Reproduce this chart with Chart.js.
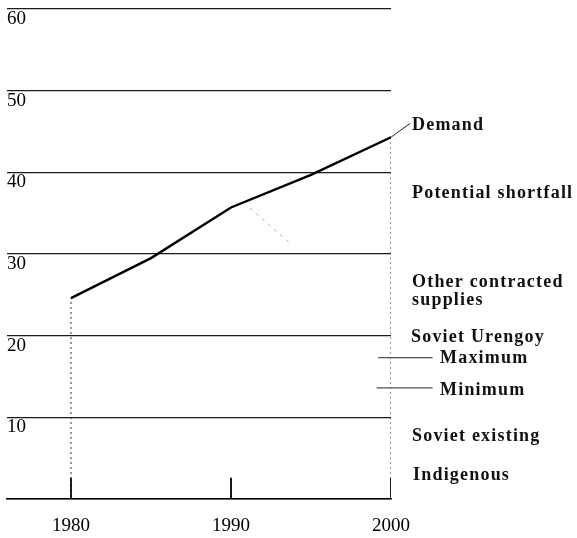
<!DOCTYPE html>
<html>
<head>
<meta charset="utf-8">
<script src="https://cdn.jsdelivr.net/npm/chart.js@4.4.0/dist/chart.umd.min.js"></script>
<style>
  html, body { margin: 0; padding: 0; background: #fff; }
</style>
</head>
<body>
<canvas id="mycanvas" width="577" height="538"></canvas>
<script>
// demand curve
var years = [1980, 1985, 1990, 1995, 2000];
var demand = [24.6, 29.5, 35.7, 39.7, 44.3];

// Soviet Urengoy range at 2000
var urengoyMax = 17.3;
var urengoyMin = 13.6;

// faint stray trace below the 1990 bend
var traceYears = [1991.2, 1993.7];
var traceValues = [35.6, 31.3];

var xTicks = [1980, 1990, 2000];
var yTicks = [0, 10, 20, 30, 40, 50, 60];

var bandLabels = ['Demand', 'Potential shortfall', 'Other contracted', 'supplies',
                  'Soviet Urengoy', 'Maximum', 'Minimum', 'Soviet existing', 'Indigenous'];

// where the labels sit: baseline in chart units, indent in px from the right edge
var labelBase = [45.2, 36.85, 25.96, 23.75, 19.22, 16.65, 12.73, 7.1, 2.33];
var labelIndent = [21, 21, 21, 21, 20, 49, 49, 21, 22];

function pts(xs, ys) {
  var out = [];
  for (var i = 0; i < xs.length; i++) out.push({x: xs[i], y: ys[i]});
  return out;
}

var last = years.length - 1;
var guides = [
  {x: years[0], y: 0}, {x: years[0], y: demand[0]}, {x: 1990, y: null},
  {x: years[last], y: 0}, {x: years[last], y: demand[last]}
];
var tickMarks = [];
xTicks.forEach(function(v) {
  tickMarks.push({x: v, y: 0}, {x: v, y: 2.6}, {x: v + 1, y: null});
});
var leaders = [
  {x: years[last], y: demand[last]}, {x: 2001.2, y: 46.0}, {x: 2001.5, y: null},
  {x: 1999.2, y: urengoyMax}, {x: 2002.6, y: urengoyMax}, {x: 2001.5, y: null},
  {x: 1999.1, y: urengoyMin}, {x: 2002.6, y: urengoyMin}
];

var annotate = {
  id: 'annotate',
  afterDatasetsDraw: function(chart) {
    var ctx = chart.ctx;
    var ys = chart.scales.y;
    var right = chart.chartArea.right;
    ctx.save();
    ctx.font = 'bold 18px "Liberation Serif"';
    ctx.letterSpacing = '1.2px';
    ctx.fillStyle = '#111';
    ctx.textAlign = 'left';
    ctx.textBaseline = 'alphabetic';
    for (var i = 0; i < bandLabels.length; i++) {
      ctx.fillText(bandLabels[i], right + labelIndent[i], ys.getPixelForValue(labelBase[i]));
    }
    ctx.restore();
  }
};

var serif = {family: '"Liberation Serif", serif', size: 19};

new Chart(document.getElementById('mycanvas'), {
  type: 'line',
  data: {
    datasets: [
      {
        label: 'Demand',
        data: pts(years, demand),
        borderColor: '#000',
        borderWidth: 2.4,
        pointRadius: 0,
        tension: 0
      },
      {
        data: guides,
        borderColor: '#333',
        borderWidth: 1,
        borderDash: [2, 3],
        pointRadius: 0
      },
      {
        data: tickMarks,
        borderColor: '#000',
        borderWidth: 1.8,
        pointRadius: 0
      },
      {
        data: leaders,
        borderColor: '#222',
        borderWidth: 1,
        pointRadius: 0,
        clip: false
      },
      {
        data: pts(traceYears, traceValues),
        borderColor: '#aaa',
        borderWidth: 1,
        borderDash: [3, 5],
        pointRadius: 0
      }
    ]
  },
  options: {
    responsive: false,
    animation: false,
    devicePixelRatio: 1,
    layout: {padding: {left: 7, right: 186, top: 9, bottom: 2}},
    plugins: {legend: {display: false}, tooltip: {enabled: false}},
    scales: {
      x: {
        type: 'linear',
        min: 1976,
        max: 2000,
        grid: {display: false, drawTicks: false},
        border: {display: true, color: '#000', width: 1.6},
        ticks: {
          font: serif,
          color: '#000',
          padding: 16,
          maxRotation: 0,
          callback: function(v) { return String(v); }
        },
        afterBuildTicks: function(s) {
          s.ticks = xTicks.map(function(v) { return {value: v}; });
        },
        afterFit: function(s) {
          s.paddingLeft = 0;
          s.paddingRight = 0;
          s.height = 37;
        }
      },
      y: {
        min: 0,
        max: 60,
        grid: {color: '#1a1a1a', lineWidth: 1.3, drawTicks: false},
        border: {display: false},
        ticks: {
          font: serif,
          color: '#000',
          mirror: true,
          padding: 0,
          labelOffset: 10,
          callback: function(v) { return v === 0 ? '' : String(v); }
        },
        afterBuildTicks: function(s) {
          s.ticks = yTicks.map(function(v) { return {value: v}; });
        },
        afterFit: function(s) { s.paddingTop = 0; s.paddingBottom = 0; }
      }
    }
  },
  plugins: [annotate]
});
</script>
</body>
</html>
